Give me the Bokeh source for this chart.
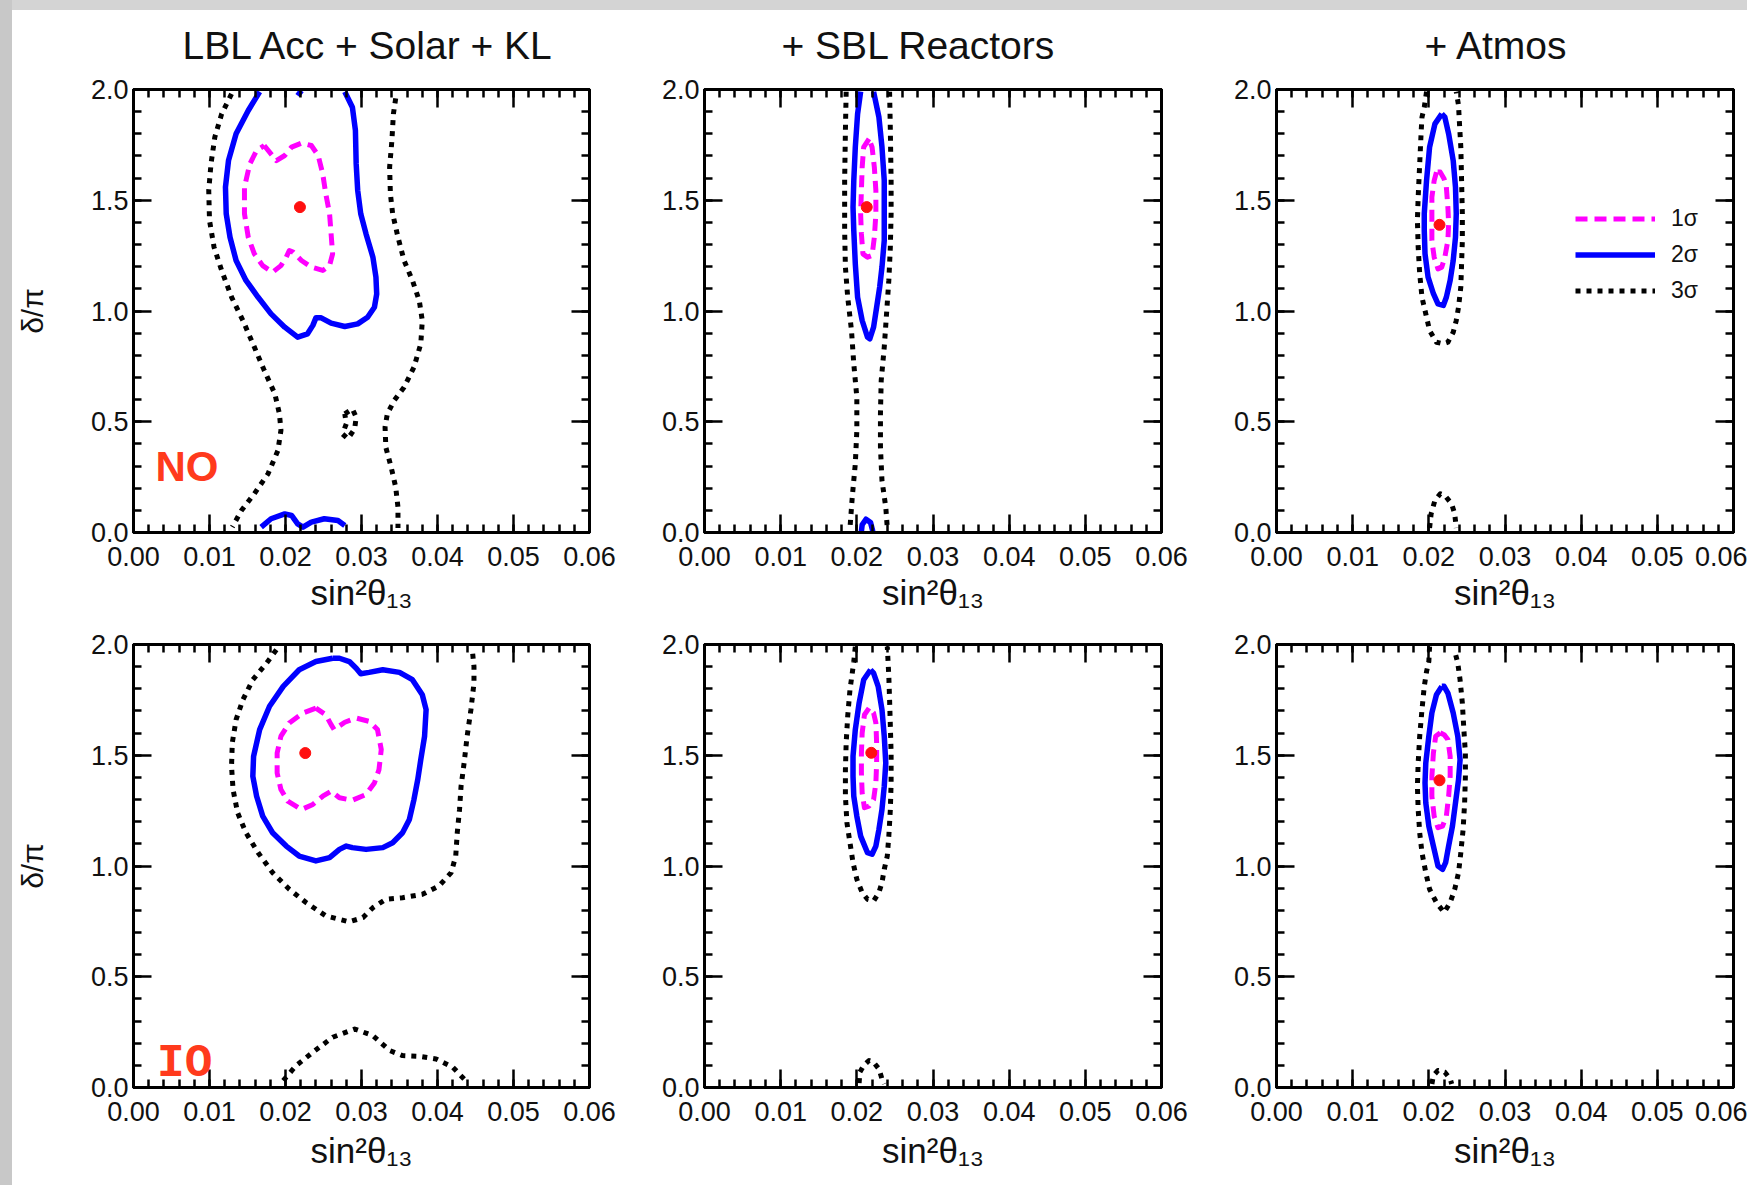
import math
from bokeh.plotting import figure
from bokeh.layouts import row, column
from bokeh.models import (Range1d, LinearAxis, FixedTicker, PrintfTickFormatter, Title,
                          Label, Legend, LegendItem, Spacer, CustomLabelingPolicy)
from bokeh.embed import file_html
from bokeh.resources import INLINE

# ------------------------------------------------------------------ data
panel_titles = ["LBL Acc + Solar + KL", "+ SBL Reactors", "+ Atmos"]
ordering_tags = ["NO", "IO"]
legend_labels = ["1σ", "2σ", "3σ"]
x_axis_title = "sin²θ₁₃"
y_axis_title = "δ/π"
x_tick_values = [0.00, 0.01, 0.02, 0.03, 0.04, 0.05, 0.06]
y_tick_values = [0.0, 0.5, 1.0, 1.5, 2.0]

# best-fit points (NO: LBL, SBL, Atm ; IO: LBL, SBL, Atm)
best_fit_x = [0.0219, 0.0213, 0.0214, 0.0226, 0.0219, 0.0214]
best_fit_y = [1.469, 1.469, 1.389, 1.510, 1.511, 1.387]

# ---- NO, LBL Acc + Solar + KL
no_lbl_1s_x = [0.0172, 0.0188, 0.0199, 0.0208, 0.0221, 0.0234, 0.0243, 0.0249, 0.0253, 0.0258, 0.0260, 0.0262, 0.0258, 0.0249,
               0.0234, 0.0221, 0.0210, 0.0205, 0.0201, 0.0194, 0.0183, 0.0170, 0.0159, 0.0151, 0.0146, 0.0146, 0.0153, 0.0162]
no_lbl_1s_y = [1.747, 1.679, 1.702, 1.740, 1.758, 1.747, 1.702, 1.619, 1.529, 1.439, 1.348, 1.258, 1.205, 1.183,
               1.198, 1.228, 1.266, 1.273, 1.243, 1.205, 1.175, 1.205, 1.258, 1.333, 1.439, 1.559, 1.664, 1.725]
no_lbl_2s_x = [0.0166, 0.0151, 0.0135, 0.0125, 0.0121, 0.0122, 0.0127, 0.0135, 0.0148, 0.0164, 0.0181, 0.0199, 0.0216, 0.0229,
               0.0236, 0.0240, 0.0247, 0.0260, 0.0278, 0.0295, 0.0308, 0.0317, 0.0320, 0.0319, 0.0315, 0.0306, 0.0299, 0.0295,
               0.0293, 0.0292, 0.0288, 0.0278]
no_lbl_2s_y = [1.990, 1.905, 1.800, 1.679, 1.559, 1.439, 1.333, 1.228, 1.138, 1.062, 0.987, 0.927, 0.882, 0.897,
               0.935, 0.969, 0.969, 0.945, 0.930, 0.942, 0.972, 1.017, 1.077, 1.153, 1.243, 1.348, 1.439, 1.544,
               1.664, 1.815, 1.920, 1.990]
no_lbl_2s_top_x = [0.0216, 0.0221]
no_lbl_2s_top_y = [1.972, 1.995]
no_lbl_2s_bot_x = [0.0168, 0.0181, 0.0199, 0.0208, 0.0216, 0.0223, 0.0234, 0.0251, 0.0269, 0.0278]
no_lbl_2s_bot_y = [0.024, 0.062, 0.084, 0.077, 0.039, 0.024, 0.047, 0.062, 0.054, 0.032]
no_lbl_3s_left_x = [0.0129, 0.0116, 0.0107, 0.0102, 0.0099, 0.0100, 0.0106, 0.0116, 0.0129, 0.0144, 0.0159, 0.0172, 0.0186,
                    0.0192, 0.0194, 0.0190, 0.0177, 0.0159, 0.0142, 0.0130]
no_lbl_3s_left_y = [1.980, 1.890, 1.785, 1.665, 1.544, 1.409, 1.288, 1.183, 1.063, 0.957, 0.837, 0.732, 0.626,
                    0.536, 0.461, 0.370, 0.265, 0.175, 0.099, 0.025]
no_lbl_3s_right_x = [0.0345, 0.0342, 0.0340, 0.0337, 0.0338, 0.0341, 0.0348, 0.0356, 0.0367, 0.0376, 0.0380, 0.0378, 0.0369,
                     0.0356, 0.0343, 0.0334, 0.0331, 0.0332, 0.0339, 0.0345, 0.0348, 0.0348]
no_lbl_3s_right_y = [1.960, 1.890, 1.770, 1.649, 1.529, 1.439, 1.333, 1.228, 1.138, 1.047, 0.957, 0.852, 0.746,
                     0.656, 0.596, 0.536, 0.476, 0.385, 0.295, 0.205, 0.114, 0.020]
no_lbl_3s_isl_x = [0.0278, 0.0288, 0.0293, 0.0291, 0.0282, 0.0275, 0.0280]
no_lbl_3s_isl_y = [0.536, 0.558, 0.521, 0.468, 0.423, 0.445, 0.491]

# ---- NO, + SBL Reactors
no_sbl_1s_x = [0.0216, 0.0209, 0.0207, 0.0206, 0.0205, 0.0206, 0.0208, 0.0214, 0.0220, 0.0223, 0.0225, 0.0225, 0.0223, 0.0220]
no_sbl_1s_y = [1.777, 1.740, 1.649, 1.544, 1.439, 1.348, 1.258, 1.243, 1.251, 1.333, 1.439, 1.544, 1.649, 1.740]
no_sbl_2s_x = [0.0205, 0.0201, 0.0198, 0.0196, 0.0195, 0.0196, 0.0198, 0.0201, 0.0207, 0.0214, 0.0217, 0.0222, 0.0226, 0.0230,
               0.0233, 0.0236, 0.0236, 0.0236, 0.0233, 0.0229, 0.0222]
no_sbl_2s_y = [1.990, 1.890, 1.740, 1.589, 1.469, 1.363, 1.213, 1.062, 0.957, 0.882, 0.874, 0.927, 1.017, 1.108,
               1.198, 1.318, 1.439, 1.589, 1.740, 1.875, 1.990]
no_sbl_2s_bot_x = [0.0206, 0.0207, 0.0212, 0.0218, 0.0221]
no_sbl_2s_bot_y = [0.005, 0.035, 0.060, 0.045, 0.005]
no_sbl_3s_left_x = [0.0186, 0.0185, 0.0184, 0.0184, 0.0185, 0.0188, 0.0193, 0.0196, 0.0200, 0.0200, 0.0198, 0.0194, 0.0191]
no_sbl_3s_left_y = [1.990, 1.815, 1.589, 1.363, 1.198, 1.062, 0.912, 0.761, 0.611, 0.460, 0.310, 0.160, 0.020]
no_sbl_3s_right_x = [0.0243, 0.0244, 0.0245, 0.0245, 0.0244, 0.0242, 0.0239, 0.0236, 0.0232, 0.0231, 0.0231, 0.0233, 0.0238, 0.0240]
no_sbl_3s_right_y = [1.990, 1.815, 1.589, 1.439, 1.288, 1.138, 0.987, 0.837, 0.686, 0.536, 0.385, 0.235, 0.114, 0.020]

# ---- NO, + Atmos
no_atm_1s_x = [0.0210, 0.0207, 0.0204, 0.0204, 0.0204, 0.0207, 0.0212, 0.0217, 0.0221, 0.0225, 0.0226, 0.0225, 0.0223, 0.0220, 0.0215]
no_atm_1s_y = [1.627, 1.589, 1.514, 1.409, 1.318, 1.243, 1.190, 1.198, 1.243, 1.318, 1.394, 1.469, 1.559, 1.597, 1.627]
no_atm_2s_x = [0.0217, 0.0208, 0.0201, 0.0197, 0.0194, 0.0194, 0.0195, 0.0199, 0.0206, 0.0212, 0.0219, 0.0223, 0.0228, 0.0232,
               0.0235, 0.0236, 0.0235, 0.0232, 0.0226, 0.0221]
no_atm_2s_y = [1.890, 1.845, 1.740, 1.589, 1.439, 1.363, 1.258, 1.153, 1.078, 1.032, 1.025, 1.062, 1.138, 1.228,
               1.333, 1.439, 1.559, 1.679, 1.800, 1.875]
no_atm_3s_x = [0.0197, 0.0194, 0.0191, 0.0190, 0.0188, 0.0186, 0.0185, 0.0186, 0.0188, 0.0191, 0.0196, 0.0201, 0.0210, 0.0219,
               0.0225, 0.0232, 0.0236, 0.0239, 0.0242, 0.0243, 0.0244, 0.0244, 0.0243, 0.0242, 0.0240, 0.0239, 0.0236]
no_atm_3s_y = [1.990, 1.920, 1.875, 1.815, 1.664, 1.514, 1.409, 1.288, 1.168, 1.062, 0.987, 0.912, 0.859, 0.852,
               0.859, 0.904, 0.957, 1.017, 1.108, 1.213, 1.318, 1.439, 1.589, 1.740, 1.860, 1.928, 1.990]
no_atm_3s_bot_x = [0.0201, 0.0203, 0.0208, 0.0215, 0.0221, 0.0230, 0.0234, 0.0236]
no_atm_3s_bot_y = [0.020, 0.084, 0.145, 0.175, 0.167, 0.129, 0.084, 0.020]

# ---- IO, LBL Acc + Solar + KL
io_lbl_1s_x = [0.0240, 0.0223, 0.0205, 0.0194, 0.0189, 0.0189, 0.0194, 0.0203, 0.0221, 0.0236, 0.0249, 0.0260, 0.0271, 0.0288,
               0.0306, 0.0317, 0.0323, 0.0326, 0.0321, 0.0310, 0.0293, 0.0278, 0.0264, 0.0260, 0.0253]
io_lbl_1s_y = [1.713, 1.691, 1.646, 1.586, 1.510, 1.420, 1.345, 1.293, 1.255, 1.278, 1.315, 1.338, 1.308, 1.297,
               1.323, 1.375, 1.435, 1.526, 1.616, 1.653, 1.668, 1.649, 1.616, 1.638, 1.683]
io_lbl_2s_x = [0.0262, 0.0240, 0.0218, 0.0197, 0.0179, 0.0166, 0.0158, 0.0157, 0.0162, 0.0170, 0.0183, 0.0201, 0.0218, 0.0240,
               0.0258, 0.0271, 0.0280, 0.0288, 0.0306, 0.0328, 0.0341, 0.0354, 0.0363, 0.0369, 0.0374, 0.0378, 0.0383, 0.0385,
               0.0380, 0.0367, 0.0350, 0.0328, 0.0310, 0.0299, 0.0293, 0.0284, 0.0271]
io_lbl_2s_y = [1.938, 1.923, 1.886, 1.811, 1.721, 1.616, 1.495, 1.405, 1.315, 1.225, 1.150, 1.090, 1.045, 1.023,
               1.038, 1.075, 1.090, 1.083, 1.075, 1.083, 1.105, 1.150, 1.210, 1.300, 1.390, 1.480, 1.586, 1.706,
               1.773, 1.841, 1.874, 1.886, 1.874, 1.868, 1.893, 1.923, 1.938]
io_lbl_3s_x = [0.0188, 0.0175, 0.0157, 0.0144, 0.0135, 0.0130, 0.0129, 0.0131, 0.0137, 0.0148, 0.0164, 0.0183, 0.0205, 0.0227,
               0.0253, 0.0284, 0.0302, 0.0315, 0.0332, 0.0354, 0.0380, 0.0402, 0.0418, 0.0424, 0.0426, 0.0429, 0.0431, 0.0435,
               0.0439, 0.0444, 0.0448, 0.0448, 0.0446]
io_lbl_3s_y = [1.976, 1.916, 1.841, 1.751, 1.661, 1.556, 1.450, 1.345, 1.240, 1.150, 1.060, 0.970, 0.895, 0.835,
               0.775, 0.748, 0.767, 0.812, 0.850, 0.857, 0.872, 0.910, 0.970, 1.045, 1.150, 1.255, 1.360, 1.465,
               1.586, 1.706, 1.826, 1.901, 1.968]
io_lbl_3s_bot_x = [0.0197, 0.0214, 0.0236, 0.0262, 0.0291, 0.0315, 0.0337, 0.0354, 0.0376, 0.0398, 0.0420, 0.0437]
io_lbl_3s_bot_y = [0.031, 0.099, 0.159, 0.227, 0.264, 0.234, 0.167, 0.144, 0.141, 0.129, 0.092, 0.031]

# ---- IO, + SBL Reactors
io_sbl_1s_x = [0.0216, 0.0210, 0.0207, 0.0206, 0.0206, 0.0207, 0.0210, 0.0216, 0.0222, 0.0225, 0.0226, 0.0226, 0.0225, 0.0222]
io_sbl_1s_y = [1.713, 1.683, 1.601, 1.510, 1.420, 1.330, 1.263, 1.270, 1.300, 1.375, 1.465, 1.556, 1.646, 1.691]
io_sbl_2s_x = [0.0218, 0.0209, 0.0203, 0.0198, 0.0195, 0.0195, 0.0196, 0.0200, 0.0205, 0.0214, 0.0220, 0.0225, 0.0229, 0.0233,
               0.0236, 0.0238, 0.0236, 0.0233, 0.0228, 0.0222]
io_sbl_2s_y = [1.886, 1.841, 1.736, 1.616, 1.495, 1.405, 1.315, 1.225, 1.135, 1.060, 1.053, 1.090, 1.165, 1.255,
               1.360, 1.465, 1.586, 1.706, 1.811, 1.871]
io_sbl_3s_x = [0.0198, 0.0196, 0.0194, 0.0191, 0.0188, 0.0186, 0.0185, 0.0185, 0.0187, 0.0191, 0.0195, 0.0200, 0.0207, 0.0214,
               0.0222, 0.0229, 0.0233, 0.0236, 0.0240, 0.0242, 0.0244, 0.0245, 0.0245, 0.0244, 0.0243, 0.0242, 0.0241, 0.0240]
io_sbl_3s_y = [1.990, 1.923, 1.871, 1.796, 1.676, 1.556, 1.435, 1.315, 1.195, 1.105, 1.015, 0.940, 0.880, 0.850,
               0.842, 0.880, 0.925, 0.985, 1.045, 1.135, 1.255, 1.375, 1.510, 1.631, 1.751, 1.856, 1.923, 1.990]
io_sbl_3s_bot_x = [0.0203, 0.0204, 0.0209, 0.0216, 0.0222, 0.0229, 0.0233, 0.0236]
io_sbl_3s_bot_y = [0.020, 0.069, 0.099, 0.122, 0.114, 0.084, 0.039, 0.016]

# ---- IO, + Atmos
io_atm_1s_x = [0.0215, 0.0209, 0.0206, 0.0204, 0.0204, 0.0207, 0.0212, 0.0218, 0.0223, 0.0226, 0.0228, 0.0228, 0.0225, 0.0220]
io_atm_1s_y = [1.601, 1.586, 1.510, 1.405, 1.315, 1.225, 1.173, 1.180, 1.225, 1.315, 1.405, 1.495, 1.571, 1.593]
io_atm_2s_x = [0.0217, 0.0210, 0.0204, 0.0200, 0.0196, 0.0195, 0.0196, 0.0200, 0.0206, 0.0212, 0.0218, 0.0222, 0.0226, 0.0231,
               0.0235, 0.0239, 0.0241, 0.0238, 0.0232, 0.0225, 0.0220]
io_atm_2s_y = [1.811, 1.773, 1.691, 1.586, 1.465, 1.375, 1.285, 1.180, 1.090, 1.000, 0.985, 1.015, 1.090, 1.180,
               1.285, 1.390, 1.480, 1.586, 1.691, 1.781, 1.811]
io_atm_3s_x = [0.0201, 0.0200, 0.0197, 0.0194, 0.0191, 0.0188, 0.0186, 0.0185, 0.0186, 0.0188, 0.0191, 0.0196, 0.0201, 0.0210,
               0.0220, 0.0228, 0.0234, 0.0239, 0.0242, 0.0245, 0.0247, 0.0248, 0.0248, 0.0246, 0.0244, 0.0241, 0.0238, 0.0234]
io_atm_3s_y = [1.990, 1.923, 1.878, 1.811, 1.706, 1.586, 1.465, 1.360, 1.255, 1.150, 1.060, 0.970, 0.895, 0.835,
               0.790, 0.835, 0.895, 0.970, 1.060, 1.165, 1.285, 1.405, 1.510, 1.616, 1.736, 1.841, 1.916, 1.970]
io_atm_3s_bot_x = [0.0204, 0.0206, 0.0212, 0.0221, 0.0228, 0.0230]
io_atm_3s_bot_y = [0.016, 0.054, 0.077, 0.069, 0.039, 0.016]

# (sigma, closed, x, y) per panel, rows = NO / IO, columns = data combinations
panel_contours = [
    [
        [(3, False, no_lbl_3s_left_x, no_lbl_3s_left_y), (3, False, no_lbl_3s_right_x, no_lbl_3s_right_y),
         (3, True, no_lbl_3s_isl_x, no_lbl_3s_isl_y),
         (2, False, no_lbl_2s_x, no_lbl_2s_y), (2, False, no_lbl_2s_top_x, no_lbl_2s_top_y),
         (2, False, no_lbl_2s_bot_x, no_lbl_2s_bot_y),
         (1, True, no_lbl_1s_x, no_lbl_1s_y)],
        [(3, False, no_sbl_3s_left_x, no_sbl_3s_left_y), (3, False, no_sbl_3s_right_x, no_sbl_3s_right_y),
         (2, False, no_sbl_2s_x, no_sbl_2s_y), (2, False, no_sbl_2s_bot_x, no_sbl_2s_bot_y),
         (1, True, no_sbl_1s_x, no_sbl_1s_y)],
        [(3, False, no_atm_3s_x, no_atm_3s_y), (3, False, no_atm_3s_bot_x, no_atm_3s_bot_y),
         (2, True, no_atm_2s_x, no_atm_2s_y),
         (1, True, no_atm_1s_x, no_atm_1s_y)],
    ],
    [
        [(3, False, io_lbl_3s_x, io_lbl_3s_y), (3, False, io_lbl_3s_bot_x, io_lbl_3s_bot_y),
         (2, True, io_lbl_2s_x, io_lbl_2s_y),
         (1, True, io_lbl_1s_x, io_lbl_1s_y)],
        [(3, False, io_sbl_3s_x, io_sbl_3s_y), (3, False, io_sbl_3s_bot_x, io_sbl_3s_bot_y),
         (2, True, io_sbl_2s_x, io_sbl_2s_y),
         (1, True, io_sbl_1s_x, io_sbl_1s_y)],
        [(3, False, io_atm_3s_x, io_atm_3s_y), (3, False, io_atm_3s_bot_x, io_atm_3s_bot_y),
         (2, True, io_atm_2s_x, io_atm_2s_y),
         (1, True, io_atm_1s_x, io_atm_1s_y)],
    ],
]

# ------------------------------------------------------------------ style
FONT = "Liberation Sans"
TEXT_COLOR = "#111111"
SIGMA_STYLE = {
    1: dict(line_color="#ff00ff", line_width=5, line_dash="12 7"),
    2: dict(line_color="#0000ff", line_width=5.5, line_dash="solid"),
    3: dict(line_color="#000000", line_width=5, line_dash="5 6"),
}
FRAME_W, FRAME_H = 457, 443
BORDER_L = [120, 80, 80]
BORDER_R = [35, 35, 14]
BORDER_T = [89, 26]
BORDER_B = [86, 98]
XLABEL_STANDOFF = [4, 7]
TITLE_X = [49, 77, 148]
TITLE_STANDOFF = 34
TAG_POS = [(0.0029, 0.297, FONT, "42px"), (0.0031, 0.106, "Liberation Mono", "46px")]
SHADOW = "#d4d4d4"
x_minor_values = [round(i * 0.002, 3) for i in range(31)]
y_minor_values = [round(i * 0.1, 2) for i in range(21)]

HIDE_LABELS = """
try {
  for (let i = 0; i < indices.size; i++) { indices.unset(i) }
} catch (e) {
  try { for (let i = 0; i < indices.size; i++) { indices.set(i, false) } } catch (e2) {}
}
return indices
"""


def make_axis(loc, label=None, label_standoff=0):
    horizontal = loc in ("below", "above")
    if horizontal:
        ticker = FixedTicker(ticks=x_tick_values, minor_ticks=x_minor_values)
        fmt = PrintfTickFormatter(format="%.2f")
    else:
        ticker = FixedTicker(ticks=y_tick_values, minor_ticks=y_minor_values)
        fmt = PrintfTickFormatter(format="%.1f")
    ax = LinearAxis(ticker=ticker, formatter=fmt)
    ax.axis_line_color = "black"
    ax.axis_line_width = 3
    ax.major_tick_in = 18
    ax.major_tick_out = 0
    ax.minor_tick_in = 8
    ax.minor_tick_out = 0
    ax.major_tick_line_width = 2.5
    ax.minor_tick_line_width = 2.5
    ax.major_tick_line_color = "black"
    ax.minor_tick_line_color = "black"
    if loc in ("below", "left"):
        ax.major_label_text_font = FONT
        ax.major_label_text_font_size = "27px"
        ax.major_label_text_color = TEXT_COLOR
        ax.major_label_standoff = 14 if loc == "below" else 5
        if label is not None:
            ax.axis_label = label
            ax.axis_label_text_font = FONT
            ax.axis_label_text_font_style = "normal"
            ax.axis_label_text_color = TEXT_COLOR
            ax.axis_label_text_font_size = "35px" if loc == "below" else "30px"
            ax.axis_label_standoff = label_standoff
    else:
        ax.major_label_text_font_size = "1px"
        ax.major_label_standoff = 0
        ax.major_label_policy = CustomLabelingPolicy(code=HIDE_LABELS)
    return ax


def make_panel(r, c):
    bl, br, bt, bb = BORDER_L[c], BORDER_R[c], BORDER_T[r], BORDER_B[r]
    p = figure(width=bl + FRAME_W + br, height=bt + FRAME_H + bb,
               x_range=Range1d(0, 0.06), y_range=Range1d(0, 2),
               x_axis_type=None, y_axis_type=None, title=None,
               min_border_left=bl, min_border_right=br,
               min_border_top=bt, min_border_bottom=bb,
               output_backend="svg", toolbar_location=None)
    p.background_fill_color = "white"
    p.outline_line_color = "black"
    p.outline_line_width = 3
    if r == 0:
        # transparent border so the page-shadow strip (host background) shows on top
        p.border_fill_alpha = 0
        p.styles = {"background": f"linear-gradient(to bottom, {SHADOW} 0px, {SHADOW} 10px, #ffffff 10px, #ffffff 100%)"}
    else:
        p.border_fill_color = "white"

    p.add_layout(make_axis("below", x_axis_title, XLABEL_STANDOFF[r]), "below")
    if c == 0:
        p.add_layout(make_axis("left", y_axis_title, 39), "left")
    else:
        p.add_layout(make_axis("left"), "left")
    p.add_layout(make_axis("above"), "above")
    p.add_layout(make_axis("right"), "right")

    if r == 0:
        p.add_layout(Title(text=panel_titles[c], align="left", offset=TITLE_X[c], standoff=TITLE_STANDOFF,
                           vertical_align="top",
                           text_font=FONT, text_font_size="39px", text_font_style="normal",
                           text_color=TEXT_COLOR), "above")

    first = {}
    for sigma, closed, xs, ys in panel_contours[r][c]:
        xx = list(xs) + ([xs[0]] if closed else [])
        yy = list(ys) + ([ys[0]] if closed else [])
        rend = p.line(xx, yy, line_cap="butt", line_join="round", **SIGMA_STYLE[sigma])
        first.setdefault(sigma, rend)

    k = r * 3 + c
    p.scatter([best_fit_x[k]], [best_fit_y[k]], size=11, color="#ff1010", line_color="#ff1010")

    if c == 0:
        tx, ty, tfont, tsize = TAG_POS[r]
        p.add_layout(Label(x=tx, y=ty, text=ordering_tags[r], text_font=tfont, text_font_style="bold",
                           text_font_size=tsize, text_color="#ff3a1c",
                           text_align="left", text_baseline="alphabetic"))

    if r == 0 and c == 2:
        items = [LegendItem(label=legend_labels[i], renderers=[first[i + 1]]) for i in range(3)]
        leg = Legend(items=items, location=(299, 228), orientation="vertical",
                     glyph_width=80, glyph_height=27, label_height=27, spacing=9,
                     label_standoff=16, padding=0, margin=0,
                     label_text_font=FONT, label_text_font_size="23px", label_text_color=TEXT_COLOR,
                     border_line_alpha=0, background_fill_alpha=0)
        p.add_layout(leg)
    return p


rows = []
for r in range(2):
    rows.append(row(*[make_panel(r, c) for c in range(3)], spacing=0))

grid = column(*rows, spacing=0)
left_strip = Spacer(width=12, height=1185, styles={"background-color": "#c8c8c8"})
layout = row(left_strip, grid, spacing=0)

open("out.html", "w").write(file_html(layout, INLINE, title="delta vs sin2theta13"))
